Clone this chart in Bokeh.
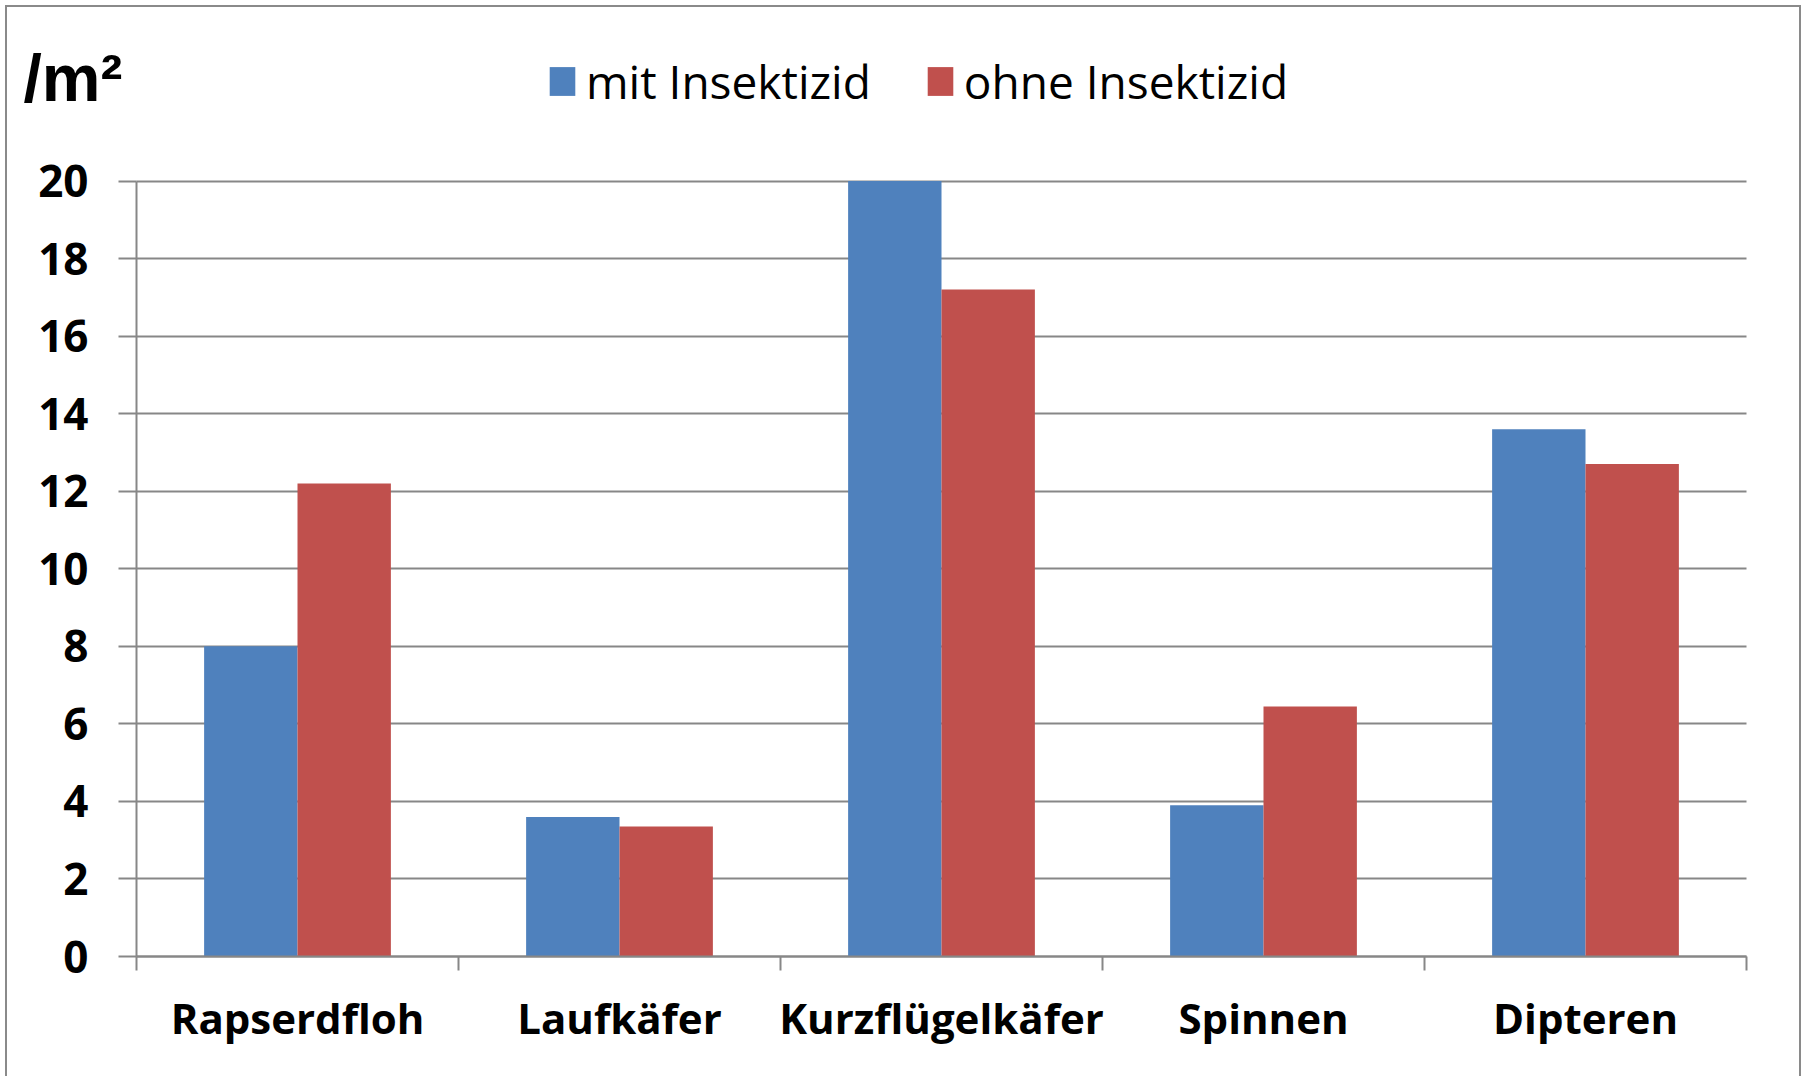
from bokeh.plotting import figure
from bokeh.models import (Range1d, FixedTicker, Legend, LegendItem, Label,
                          ColumnDataSource)
from bokeh.transform import dodge
from bokeh.embed import file_html
from bokeh.resources import INLINE

# Individuals per m² by group, with and without insecticide
categories = ["Rapserdfloh", "Laufkäfer", "Kurzflügelkäfer", "Spinnen", "Dipteren"]
mit_insektizid = [8.0, 3.6, 20.0, 3.9, 13.6]
ohne_insektizid = [12.2, 3.35, 17.2, 6.45, 12.7]
series_labels = ["mit Insektizid", "ohne Insektizid"]
y_ticks = [0, 2, 4, 6, 8, 10, 12, 14, 16, 18, 20]
unit_label = "/m²"

BLUE = "#4F81BD"
RED = "#C0504D"
GRID = "#878787"
FONT = "Open Sans"

W, H = 1803, 1076
# pixel geometry of the value area inside the canvas
AX_LEFT, AX_RIGHT, AX_TOP, AX_BOTTOM = 136, 1746, 180.5, 956

n = len(categories)
centers = [i + 0.5 for i in range(n)]
bounds = list(range(n + 1))

# the frame spans the whole canvas; the ranges are widened so that the
# value area lands at the pixel geometry above, and both axes are pinned
px_x = (AX_RIGHT - AX_LEFT) / n
px_y = (AX_BOTTOM - AX_TOP) / (y_ticks[-1] - y_ticks[0])
x_range = Range1d(-AX_LEFT / px_x, n + (W - AX_RIGHT) / px_x)
y_range = Range1d(y_ticks[0] - (H - AX_BOTTOM) / px_y, y_ticks[-1] + AX_TOP / px_y)

source = ColumnDataSource(dict(x=centers, mit=mit_insektizid, ohne=ohne_insektizid))

p = figure(width=W, height=H, output_backend="svg", toolbar_location=None,
           x_range=x_range, y_range=y_range,
           min_border_left=0, min_border_right=0, min_border_top=0,
           min_border_bottom=0)
p.outline_line_color = None
p.background_fill_alpha = 0
p.border_fill_alpha = 0
# outer frame lines (left, top, right) painted behind the transparent canvas
line = "linear-gradient(#8a8a8a,#8a8a8a)"
p.styles = {"background": (f"{line} 5px 5px/2px 100% no-repeat, "
                           f"{line} 5px 5px/1796px 2px no-repeat, "
                           f"{line} 1799px 5px/2px 100% no-repeat, white")}

bar_w = 0.29
r_mit = p.vbar(x=dodge("x", -bar_w / 2), top="mit", width=bar_w, source=source,
               fill_color=BLUE, line_color=None)
r_ohne = p.vbar(x=dodge("x", bar_w / 2), top="ohne", width=bar_w, source=source,
                fill_color=RED, line_color=None)

# horizontal gridlines across the value area only
p.xgrid.grid_line_color = None
p.ygrid.ticker = FixedTicker(ticks=y_ticks)
p.ygrid.cross_bounds = (0, n)
p.ygrid.grid_line_color = GRID
p.ygrid.grid_line_width = 2

# y axis pinned at x = 0
ya = p.yaxis[0]
ya.fixed_location = 0
ya.bounds = (y_ticks[0], y_ticks[-1])
ya.ticker = FixedTicker(ticks=y_ticks)
ya.axis_line_color = GRID
ya.axis_line_width = 2
ya.major_tick_line_color = GRID
ya.major_tick_line_width = 2
ya.major_tick_out = 18
ya.major_tick_in = 0
ya.minor_tick_line_color = None
ya.major_label_standoff = 30
ya.major_label_text_font = FONT
ya.major_label_text_font_style = "bold"
ya.major_label_text_font_size = "44px"
ya.major_label_text_color = "black"

# x axis pinned at y = 0: labels centred on groups, tick marks at group boundaries
xa = p.xaxis[0]
xa.fixed_location = 0
xa.bounds = (0, n)
xa.ticker = FixedTicker(ticks=centers, minor_ticks=bounds)
xa.major_label_overrides = {c: name for c, name in zip(centers, categories)}
xa.axis_line_color = GRID
xa.axis_line_width = 2
xa.major_tick_line_color = None
xa.major_tick_out = 0
xa.major_tick_in = 0
xa.minor_tick_line_color = GRID
xa.minor_tick_line_width = 2
xa.minor_tick_out = 14
xa.minor_tick_in = 0
xa.major_label_standoff = 18
xa.major_label_text_font = FONT
xa.major_label_text_font_style = "bold"
xa.major_label_text_font_size = "42px"
xa.major_label_text_color = "black"

# unit label in the top-left corner
p.add_layout(Label(x=23, y=H - 77, x_units="screen", y_units="screen",
                   text=unit_label, text_font="Liberation Sans",
                   text_font_style="bold", text_font_size="66px",
                   text_color="black", text_baseline="alphabetic"))

legend = Legend(items=[LegendItem(label=series_labels[0], renderers=[r_mit]),
                       LegendItem(label=series_labels[1], renderers=[r_ohne])],
                orientation="horizontal", location=(546, H - 112),
                padding=0, margin=0, spacing=53, glyph_width=32, glyph_height=36,
                label_standoff=8, border_line_color=None,
                background_fill_alpha=0)
legend.label_text_font = FONT
legend.label_text_font_size = "46px"
legend.label_text_color = "black"
p.add_layout(legend)

open("out.html", "w").write(file_html(p, INLINE))
